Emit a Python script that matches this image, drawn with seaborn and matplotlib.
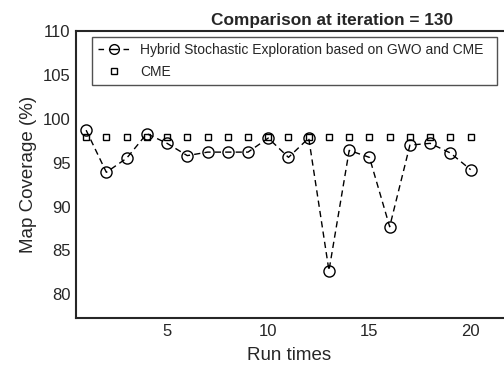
import matplotlib
matplotlib.use('Agg')
import matplotlib.pyplot as plt
import seaborn as sns

# data
runs = list(range(1, 21))
hybrid = [98.7, 93.9, 95.5, 98.3, 97.2, 95.8, 96.2, 96.2, 96.2, 97.8,
          95.6, 97.8, 82.7, 96.4, 95.6, 87.7, 97.0, 97.2, 96.1, 94.2]
cme = [97.9] * 20
yticks = [80, 85, 90, 95, 100, 105, 110]
xticks = [5, 10, 15, 20]

sns.set_style('white')
plt.rcParams['font.family'] = ['Liberation Sans', 'DejaVu Sans']

fig = plt.figure(figsize=(5.04, 3.69), dpi=100)
# the original plot is cut off on the right, so the axes run past the figure edge
ax = fig.add_axes([76 / 504, 1 - 318 / 369, (588 - 76) / 504, (318 - 31) / 369])

sns.lineplot(x=runs, y=hybrid, ax=ax, color='black', linewidth=1, dashes=False,
             marker='o', markersize=8, markerfacecolor='none', markeredgecolor='black',
             markeredgewidth=1, label='Hybrid Stochastic Exploration based on GWO and CME')
ax.lines[-1].set_dashes((4.5, 3))
sns.lineplot(x=runs, y=cme, ax=ax, color='black', linestyle='none',
             marker='s', markersize=5, markerfacecolor='none', markeredgecolor='black',
             markeredgewidth=1, label='CME')

ax.set_xlim(0.5, 25.8)
ax.set_ylim(77.3, 110)
ax.set_xticks(xticks)
ax.set_yticks(yticks)
ax.tick_params(direction='in', length=4, width=1, labelsize=12, colors='#262626', pad=4)

for s in ['left', 'bottom', 'top', 'right']:
    ax.spines[s].set_color('#262626')
    ax.spines[s].set_linewidth(1.5)

ax.set_xlabel('Run times', fontsize=13.5, color='#262626')
ax.xaxis.set_label_coords((289 - 76) / 512, -0.1)
ax.set_ylabel('Map Coverage (%)', fontsize=13.5, color='#262626', labelpad=4)
ax.set_title('Comparison at iteration = 130', fontsize=12.4, fontweight='bold', pad=4)

# legend box from x=92 to 497 px, top at 37 px
x0 = (92 - 76) / 512
w = (497 - 92) / 512
leg = ax.legend(loc='upper left', bbox_to_anchor=(x0, 0.98, w, 0.0), mode='expand',
                fontsize=10, frameon=True, fancybox=False, borderaxespad=0,
                handlelength=2.2, borderpad=0.45, labelspacing=0.55)
leg.get_frame().set_edgecolor('#262626')
leg.get_frame().set_linewidth(1)
leg.get_lines()[0].set_dashes((4, 3.5, 7, 3.5))
leg.get_lines()[0].set_markersize(7)

fig.savefig('out.png', dpi=100)
